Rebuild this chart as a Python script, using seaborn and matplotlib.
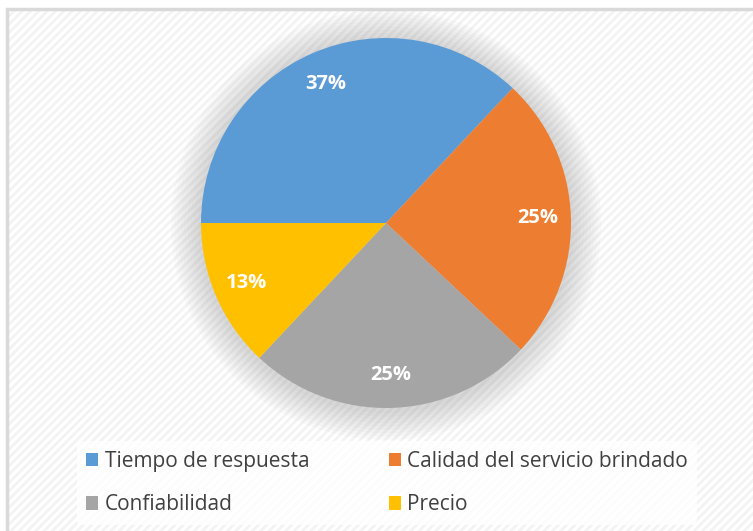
import matplotlib
matplotlib.use("Agg")
import matplotlib.pyplot as plt
import seaborn as sns
from matplotlib.patches import Patch, Rectangle, Circle

# data
categorias = ["Tiempo de respuesta", "Calidad del servicio brindado", "Confiabilidad", "Precio"]
porcentajes = [37, 25, 25, 13]
colores = ["#5B9BD5", "#ED7D31", "#A5A5A5", "#FFC000"]

sns.set_theme(style="white")
plt.rcParams["font.family"] = ["Open Sans", "DejaVu Sans"]
plt.rcParams["hatch.linewidth"] = 2.0

fig = plt.figure(figsize=(7.53, 5.31), dpi=100)
fig.patch.set_facecolor("white")

# chart area frame with faint diagonal texture
bg = Rectangle((7 / 753, -0.05), 1.0, 1 - 9 / 531 + 0.05, transform=fig.transFigure,
               facecolor="white", edgecolor="#f3f3f3", hatch="////", lw=0, zorder=-5)
fig.patches.append(bg)
border = Rectangle((7 / 753, -0.05), 1.0, 1 - 9 / 531 + 0.05, transform=fig.transFigure,
                   facecolor="none", edgecolor="#d9d9d9", lw=2.5, zorder=-4)
fig.patches.append(border)

ax = fig.add_axes([201 / 753, 123 / 531, 370 / 753, 370 / 531])
ax.set_facecolor("none")

# soft shadow behind the pie
for k in range(9):
    r = 1.0 + 0.018 * (k + 1)
    ax.add_patch(Circle((0, -0.01), r, facecolor="#8a8a8a", alpha=0.04, lw=0,
                        zorder=0, clip_on=False))

wedges, texts, autotexts = ax.pie(
    porcentajes,
    colors=colores,
    startangle=180,
    counterclock=False,
    autopct=lambda p: f"{p:.0f}%",
    pctdistance=0.82,
    radius=1.0,
    wedgeprops={"linewidth": 0, "zorder": 2},
    textprops={"color": "white", "fontsize": 14.5, "fontweight": "bold"},
)
for t in autotexts:
    t.set_zorder(3)
ax.set_xlim(-1, 1)
ax.set_ylim(-1, 1)
ax.set_aspect("equal")
ax.axis("off")

# matplotlib fills legend columns first, so reorder to get Excel's row order
orden = [0, 2, 1, 3]
handles = [Patch(facecolor=colores[i], edgecolor="none") for i in orden]
labels = [categorias[i] for i in orden]
leg = fig.legend(
    handles, labels,
    ncol=2,
    loc="center",
    bbox_to_anchor=(387 / 753, 1 - 483 / 531),
    frameon=True,
    fontsize=15,
    handlelength=0.6,
    handleheight=0.6,
    handletextpad=0.3,
    columnspacing=3.8,
    labelspacing=1.1,
    borderpad=0.45,
)
leg.get_frame().set_facecolor("white")
leg.get_frame().set_edgecolor("none")
leg.get_frame().set_alpha(0.8)
for t in leg.get_texts():
    t.set_color("#404040")

fig.savefig("out.png", dpi=100)
